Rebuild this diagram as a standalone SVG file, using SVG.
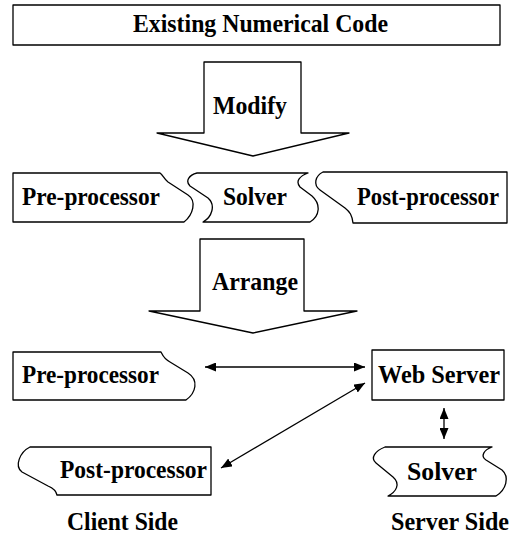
<svg xmlns="http://www.w3.org/2000/svg" width="513" height="537" viewBox="0 0 513 537">
<defs>
<style>
.s{fill:#fff;stroke:#000;stroke-width:1.3;stroke-linejoin:round}
.t{font-family:"Liberation Serif","Times New Roman",serif;font-weight:bold;font-size:26px;fill:#000}
.c{fill:none;stroke:#000;stroke-width:1.3}
</style>
<marker id="ah" viewBox="0 0 11 9" refX="11" refY="4.5" markerWidth="11" markerHeight="9" markerUnits="userSpaceOnUse" orient="auto-start-reverse">
<path d="M0,0 L11,4.5 L0,9 Z" fill="#000"/>
</marker>
</defs>
<rect width="513" height="537" fill="#fff"/>
<g id="existing-code">
<rect class="s" x="13" y="5" width="487" height="40"/>
<text class="t" x="133" y="32" textLength="255" lengthAdjust="spacingAndGlyphs">Existing Numerical Code</text>
</g>
<g id="modify-arrow">
<polygon class="s" points="204,62 301,62 301,133 349,133 253,156 157,133 204,133"/>
<text class="t" x="213" y="114" textLength="74" lengthAdjust="spacingAndGlyphs">Modify</text>
</g>
<g id="pre-processor-1">
<path class="s" d="M13,173 H160 C163,175 164,179 168,182 L188,195 C197,201 193,215 184,222 H13 Z"/>
<text class="t" x="22" y="205" textLength="138" lengthAdjust="spacingAndGlyphs">Pre-processor</text>
</g>
<g id="solver-1">
<path class="s" d="M197,173 H308 C300,176 295,181 300,187 L312,196 C321,204 320,216 310,222 H203 C212,217 216,205 208,198 L190,186 C185,181 189,175 197,173 Z"/>
<text class="t" x="223" y="205" textLength="64" lengthAdjust="spacingAndGlyphs">Solver</text>
</g>
<g id="post-processor-1">
<path class="s" d="M323,172 H507 V223 H353 C352,215 350,212 345,208 L320,190 C313,185 315,176 323,172 Z"/>
<text class="t" x="357" y="205" textLength="142" lengthAdjust="spacingAndGlyphs">Post-processor</text>
</g>
<g id="arrange-arrow">
<polygon class="s" points="200,239 304,239 304,311 357,311 253,333 149,311 200,311"/>
<text class="t" x="212" y="290" textLength="86" lengthAdjust="spacingAndGlyphs">Arrange</text>
</g>
<g id="pre-processor-2">
<path class="s" d="M13,352 H161 C163,356 164,359 170,362 L188,373 C199,380 196,393 186,400 H13 Z"/>
<text class="t" x="22" y="383" textLength="137" lengthAdjust="spacingAndGlyphs">Pre-processor</text>
</g>
<g id="web-server">
<rect class="s" x="372" y="350" width="132" height="50"/>
<text class="t" x="378" y="383" textLength="122" lengthAdjust="spacingAndGlyphs">Web Server</text>
</g>
<g id="post-processor-2">
<path class="s" d="M30,447 H211 V495 H57 C56,490 53,488 48,486 L22,472 C14,466 20,452 30,447 Z"/>
<text class="t" x="60" y="478" textLength="147" lengthAdjust="spacingAndGlyphs">Post-processor</text>
</g>
<g id="solver-2">
<path class="s" d="M385,447 H492 C484,450 480,456 486,460 L502,470 C510,477 506,490 496,496 H388 C396,492 401,484 393,477 L376,463 C370,458 375,451 385,447 Z"/>
<text class="t" x="407" y="480" textLength="70" lengthAdjust="spacingAndGlyphs">Solver</text>
</g>
<g id="labels">
<text class="t" x="67" y="530" style="font-size:25px" textLength="111" lengthAdjust="spacingAndGlyphs">Client Side</text>
<text class="t" x="391" y="530" style="font-size:25px" textLength="118" lengthAdjust="spacingAndGlyphs">Server Side</text>
</g>
<g id="connectors">
<line class="c" x1="205" y1="367" x2="365" y2="367" marker-start="url(#ah)" marker-end="url(#ah)"/>
<line class="c" x1="365" y1="383" x2="221" y2="468" marker-start="url(#ah)" marker-end="url(#ah)"/>
<line class="c" x1="444" y1="408" x2="444" y2="439" marker-start="url(#ah)" marker-end="url(#ah)"/>
</g>
</svg>
